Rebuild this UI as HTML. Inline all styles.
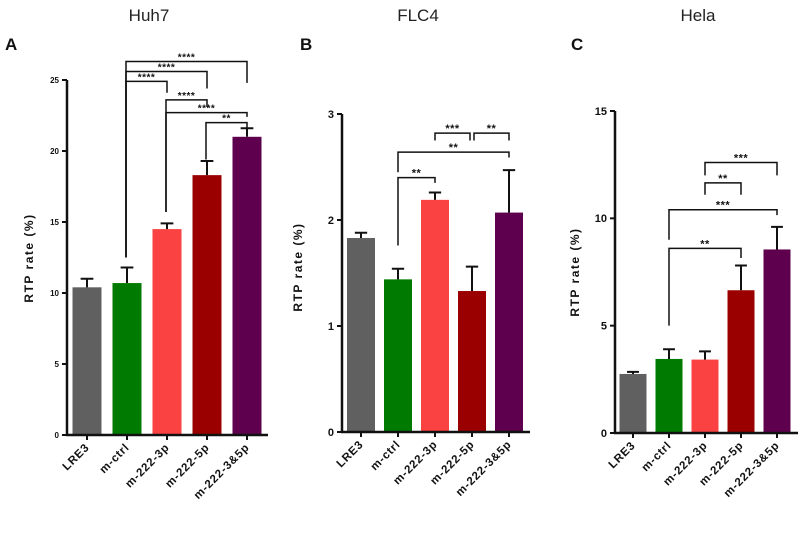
<!DOCTYPE html>
<html><head><meta charset="utf-8"><style>
body{margin:0;background:#fff;}
svg text{font-family:"Liberation Sans",sans-serif;}
</style></head><body>
<svg id="chart" width="800" height="535" viewBox="0 0 800 535" xmlns="http://www.w3.org/2000/svg"></svg>
<script>
const categories = ["LRE3","m-ctrl","m-222-3p","m-222-5p","m-222-3&5p"];
const colors = ["#606060","#007a00","#fb4242","#9a0000","#5e004e"];
const titles = ["Huh7","FLC4","Hela"];
const letters = ["A","B","C"];
const valuesA = [10.4,10.7,14.5,18.3,21.0];
const errorsA = [0.6,1.1,0.4,1.0,0.6];
const valuesB = [1.83,1.44,2.19,1.33,2.07];
const errorsB = [0.05,0.10,0.07,0.23,0.40];
const valuesC = [2.75,3.45,3.42,6.65,8.55];
const errorsC = [0.10,0.45,0.38,1.15,1.05];
const ticksA = [0,5,10,15,20,25];
const ticksB = [0,1,2,3];
const ticksC = [0,5,10,15];
// brackets: [leftIdx, rightIdx, lineValue, leftBottom, rightBottom, label]
const bracketsA = [[1,4,26.3,12.5,24.8,"****"],[1,3,25.6,12.5,24.4,"****"],[1,2,24.9,12.5,24.1,"****"],[2,3,23.6,15.7,23.1,"****"],[2,4,22.7,15.7,22.4,"****"],[3,4,22.0,19.4,21.6,"**"]];
const bracketsB = [[1,2,2.40,1.76,2.35,"**"],[1,4,2.64,2.45,2.59,"**"],[2,3,2.82,2.75,2.75,"***"],[3,4,2.82,2.75,2.75,"**"]];
const bracketsC = [[1,3,8.6,5.0,8.15,"**"],[1,4,10.4,9.0,10.15,"***"],[2,3,11.65,11.1,11.1,"**"],[2,4,12.6,12.0,12.0,"***"]];

const panels = [
 {values:valuesA,errors:errorsA,ticks:ticksA,brackets:bracketsA,ax:67,axEnd:268,y0:435,yTop:80,max:25,x0:87,step:40,bw:29,tx:149,lx:5,ylx:33,yly:258,tfs:8,gap:[0,0]},
 {values:valuesB,errors:errorsB,ticks:ticksB,brackets:bracketsB,ax:342,axEnd:530,y0:432,yTop:114,max:3,x0:361,step:37,bw:28,tx:418,lx:300,ylx:302,yly:267,tfs:11,gap:[2,2]},
 {values:valuesC,errors:errorsC,ticks:ticksC,brackets:bracketsC,ax:615,axEnd:798,y0:433,yTop:111,max:15,x0:633,step:36,bw:27,tx:698,lx:571,ylx:579,yly:272,tfs:11,gap:[0,0]}
];
const svg = document.getElementById('chart');
const NS = 'http://www.w3.org/2000/svg';
function mk(tag, attrs, parent){const e=document.createElementNS(NS,tag);for(const k in attrs)e.setAttribute(k,attrs[k]);(parent||svg).appendChild(e);return e;}

panels.forEach((p,pi)=>{
  const g = mk('g',{});
  
  
  const y = v => p.y0 - (v/p.max)*(p.y0-p.yTop);
  const x = i => p.x0 + i*p.step;
  const t = mk('text',{x:p.tx,y:21,'text-anchor':'middle','font-size':17,fill:'#222'},g);
  t.textContent = titles[pi];
  
  
  const l = mk('text',{x:p.lx,y:50,'font-size':17,'font-weight':'bold',fill:'#111'},g);
  l.textContent = letters[pi];
  
  
  const yl = mk('text',{x:p.ylx,y:p.yly,'text-anchor':'middle','font-size':12,'font-weight':'bold','letter-spacing':'1.5',fill:'#111',transform:`rotate(-90 ${p.ylx} ${p.yly})`},g);
  yl.textContent = 'RTP rate (%)';
  
  
  p.values.forEach((v,i)=>{
    const b = mk('rect',{x:x(i)-p.bw/2,y:y(v),width:p.bw,height:p.y0-y(v),fill:colors[i]},g);
    
    
    const top = y(v+p.errors[i]);
    const cw = p.bw*0.22;
    const e = mk('path',{d:`M${x(i)} ${y(v)}V${top}M${x(i)-cw} ${top}H${x(i)+cw}`,stroke:'#111','stroke-width':2,fill:'none'},g);
    
    
  });
  const ya = mk('path',{d:`M${p.ax} ${p.yTop}V${p.y0}`,stroke:'#111','stroke-width':2.5},g);
  
  
  const xa = mk('path',{d:`M${p.ax-1} ${p.y0}H${p.axEnd}`,stroke:'#111','stroke-width':2.5},g);
  
  
  p.ticks.forEach(tv=>{
    mk('path',{d:`M${p.ax-5} ${y(tv)}H${p.ax}`,stroke:'#111','stroke-width':2},g);
    const tl = mk('text',{x:p.ax-8,y:y(tv)+p.tfs*0.35,'text-anchor':'end','font-size':p.tfs,'font-weight':'bold',fill:'#111'},g);
    tl.textContent = tv;
    
    
  });
  categories.forEach((c,i)=>{
    mk('path',{d:`M${x(i)} ${p.y0}V${p.y0+5}`,stroke:'#111','stroke-width':2},g);
    const lx = x(i)+3, ly = p.y0+13;
    const xl = mk('text',{x:lx,y:ly,'text-anchor':'end','font-size':11.5,'font-weight':'bold','letter-spacing':'0.8',fill:'#111',transform:`rotate(-45 ${lx} ${ly})`},g);
    xl.textContent = c;
    
    
  });
  p.brackets.forEach(br=>{
    const [a,b2,lv,lb,rb,lab] = br;
    const xa1 = x(a)+(a===3&&p.gap[0]?p.gap[0]:0)+(pi===0?-1:0), xb = x(b2)+(b2===3&&p.gap[1]?-p.gap[1]:0);
    const pth = mk('path',{d:`M${xa1} ${y(lb)}V${y(lv)}H${xb}V${y(rb)}`,stroke:'#111','stroke-width':1.5,fill:'none'},g);
    
    
    const st = mk('text',{x:(xa1+xb)/2,y:y(lv)-1,'text-anchor':'middle','font-size':pi===0?10:11,'font-weight':'bold','letter-spacing':'0.5',fill:'#111'},g);
    st.textContent = lab;
    
    
  });
});
</script>
</body></html>
